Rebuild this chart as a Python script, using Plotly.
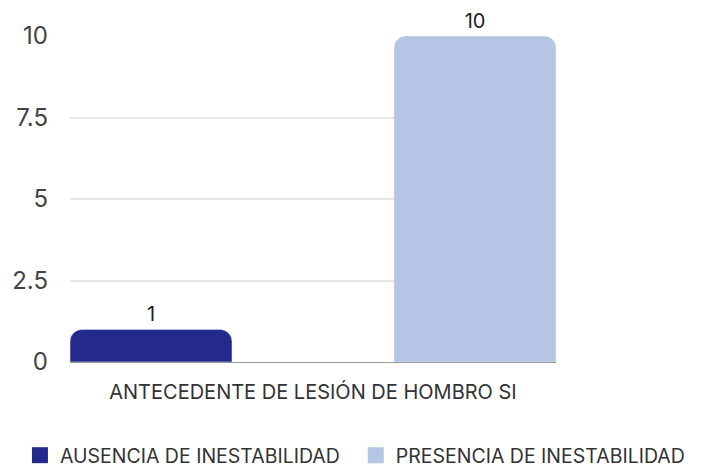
import plotly.graph_objects as go

categorias = ["ANTECEDENTE DE LESIÓN DE HOMBRO SI"]
series = ["AUSENCIA DE INESTABILIDAD", "PRESENCIA DE INESTABILIDAD"]
valores_ausencia = [1]
valores_presencia = [10]
ticks_y = [0, 2.5, 5, 7.5, 10]
colores = ["#242a8b", "#b5c5e5"]

fig = go.Figure()
# cada barra ocupa un tercio de la categoría, con un hueco en medio
for nombre, vals, col, off in zip(series, [valores_ausencia, valores_presencia], colores, [-0.5, 1/6]):
    fig.add_trace(go.Bar(
        x=categorias, y=vals, name=nombre, marker_color=col,
        offset=off, width=1/3, showlegend=False,
        text=[str(v) for v in vals], textposition="outside",
        textfont=dict(size=20, color="#222222", family="Inter"),
        cliponaxis=False,
    ))

# entradas de leyenda con cuadrado grande, una leyenda por serie
for nombre, col, leg in zip(series, colores, ["legend", "legend2"]):
    fig.add_trace(go.Scatter(x=[None], y=[None], mode="markers", name=nombre,
                             marker=dict(symbol="square", size=22, color=col),
                             legend=leg, showlegend=True))

leyenda = dict(orientation="h", xanchor="left", y=-0.227, yanchor="top",
               font=dict(size=19.5, color="#333333"), itemsizing="trace")

fig.update_layout(
    width=701, height=473,
    barmode="overlay", barcornerradius=12,
    plot_bgcolor="white", paper_bgcolor="white",
    margin=dict(l=62, r=153, t=28, b=119, autoexpand=False),
    font=dict(family="Inter", color="#333333"),
    legend=dict(leyenda, x=-0.103),
    legend2=dict(leyenda, x=0.588),
)
fig.update_xaxes(range=[-0.5, 0.5], showline=True, linecolor="#999999", linewidth=1,
                 tickfont=dict(size=20, color="#333333"), ticks="", ticklabelstandoff=12,
                 automargin=False)
fig.update_yaxes(range=[0, 10], tickvals=ticks_y, ticktext=["0", "2.5", "5", "7.5", "10"],
                 gridcolor="#e6e6e6", gridwidth=2, zeroline=False,
                 tickfont=dict(size=24, color="#444444"), ticklabelstandoff=21,
                 automargin=False)

fig.write_html("out.html")
